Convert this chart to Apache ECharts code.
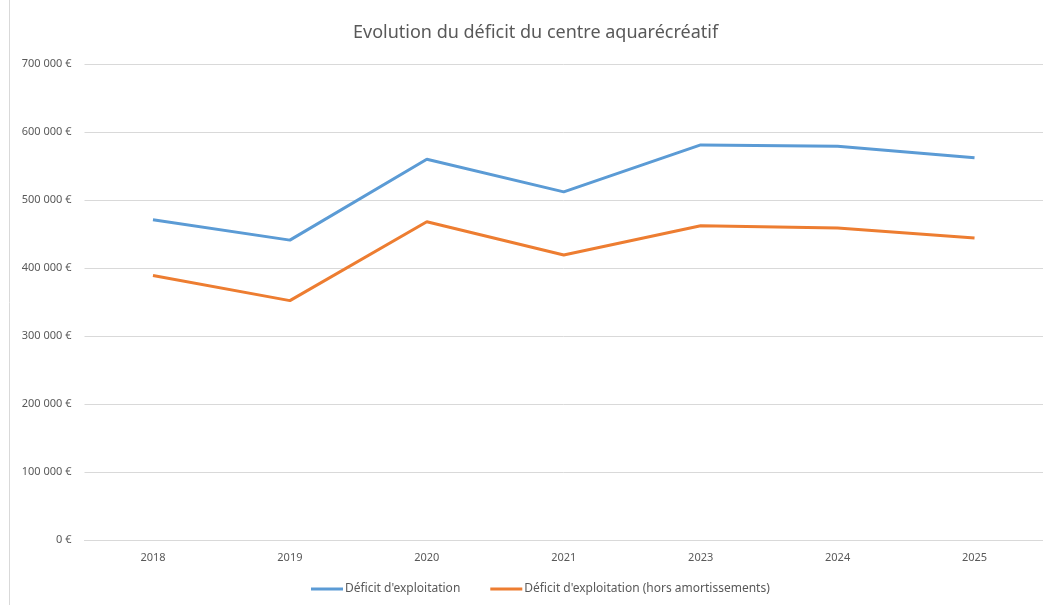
<!DOCTYPE html>
<html>
<head>
<meta charset="utf-8">
<script src="https://cdn.jsdelivr.net/npm/echarts@6/dist/echarts.min.js"></script>
<style>
  html, body { margin: 0; padding: 0; background: #fff; }
  #chart { width: 1043px; height: 605px; }
</style>
</head>
<body>
<div id="chart"></div>
<script>
const years = ['2018', '2019', '2020', '2021', '2023', '2024', '2025']
const deficit = [471000, 441000, 560000, 512000, 581000, 579000, 562000]
const deficitHorsAmort = [389000, 352000, 468000, 419000, 462000, 459000, 444000]

const COLOR_BLUE = '#5B9BD5'
const COLOR_ORANGE = '#ED7D31'
const TEXT = '#595959'
const FONT = 'Noto Sans'

function fmtEuro(v) {
  return String(v).replace(/\B(?=(\d{3})+(?!\d))/g, ' ') + ' €'
}

const chart = echarts.init(document.getElementById('chart'))

chart.setOption({
  animation: false,
  textStyle: { fontFamily: FONT },
  title: {
    text: 'Evolution du déficit du centre aquarécréatif',
    left: 348,
    top: 19,
    textStyle: { fontFamily: FONT, fontSize: 18, fontWeight: 'normal', color: TEXT }
  },
  graphic: [{
    type: 'rect',
    shape: { x: 9.5, y: -5, width: 1100, height: 700 },
    style: { fill: 'none', stroke: '#d9d9d9', lineWidth: 1 },
    silent: true
  }],
  legend: {
    bottom: 5,
    left: 306,
    itemWidth: 32,
    itemHeight: 3,
    itemGap: 30,
    icon: 'rect',
    textStyle: { fontFamily: FONT, fontSize: 12, color: TEXT, padding: [0, 0, 0, -3] },
    data: ["Déficit d'exploitation", "Déficit d'exploitation (hors amortissements)"]
  },
  grid: {
    top: 64,
    bottom: 65,
    left: 84.5,
    width: 961
  },
  xAxis: {
    type: 'category',
    data: years,
    boundaryGap: true,
    axisLine: { lineStyle: { color: '#d9d9d9' } },
    axisTick: { show: false },
    axisLabel: { color: TEXT, fontSize: 11, margin: 12 }
  },
  yAxis: {
    type: 'value',
    min: 0,
    max: 700000,
    interval: 100000,
    axisLine: { show: false },
    axisTick: { show: false },
    splitLine: { lineStyle: { color: '#d9d9d9' } },
    axisLabel: { color: TEXT, fontSize: 11, margin: 13, formatter: fmtEuro }
  },
  series: [
    {
      name: "Déficit d'exploitation",
      type: 'line',
      data: deficit,
      showSymbol: false,
      symbol: 'none',
      lineStyle: { color: COLOR_BLUE, width: 3 },
      itemStyle: { color: COLOR_BLUE }
    },
    {
      name: "Déficit d'exploitation (hors amortissements)",
      type: 'line',
      data: deficitHorsAmort,
      showSymbol: false,
      symbol: 'none',
      lineStyle: { color: COLOR_ORANGE, width: 3 },
      itemStyle: { color: COLOR_ORANGE }
    }
  ]
})
</script>
</body>
</html>
